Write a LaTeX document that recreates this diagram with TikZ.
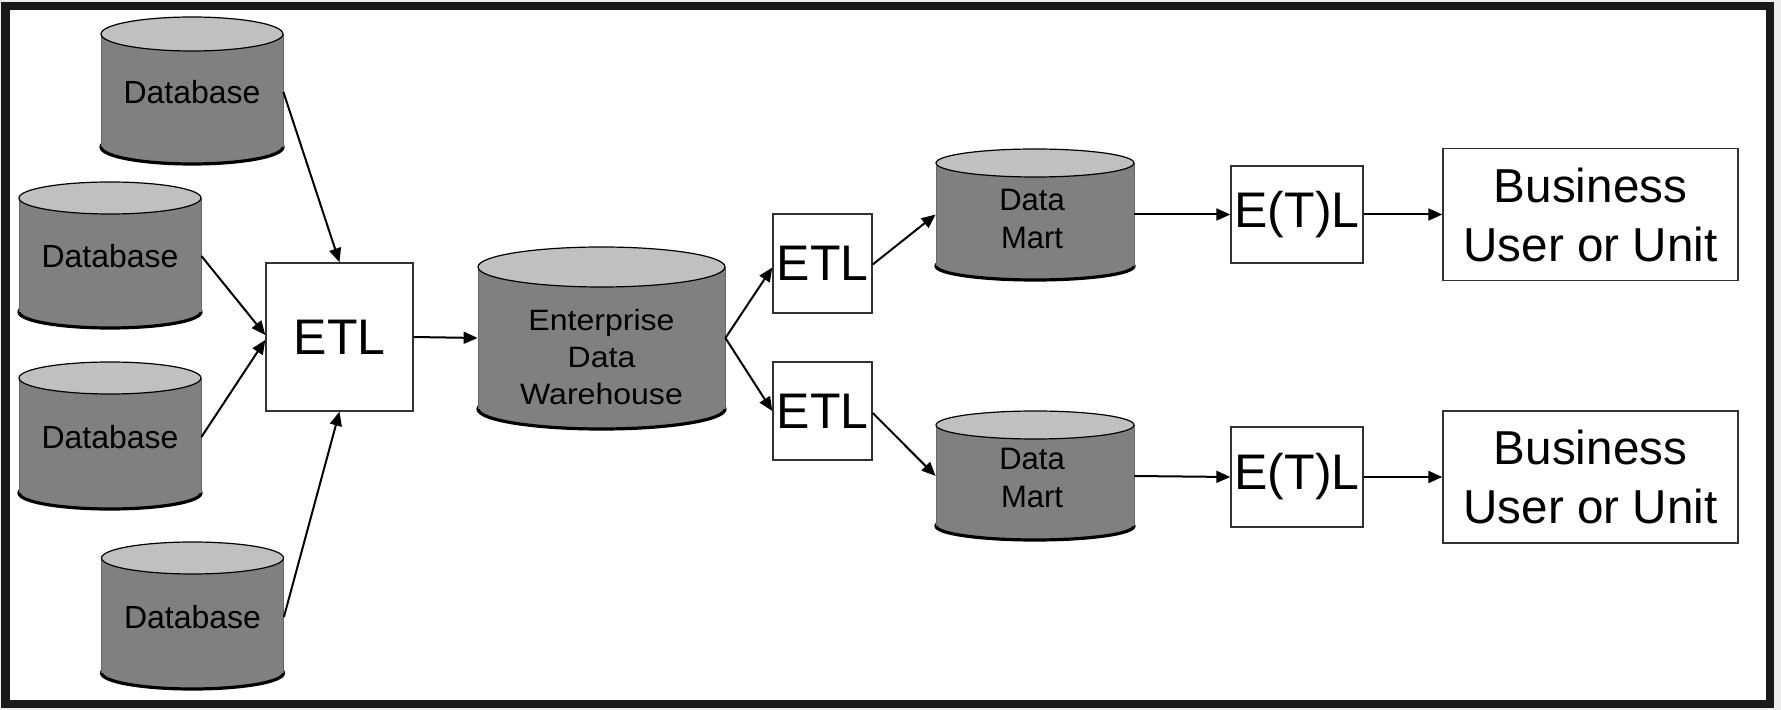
\documentclass[tikz,border=0pt]{standalone}
\usepackage{fontspec}
\setmainfont{Liberation Sans}
\newfontfamily\widesans[FakeStretch=1.09]{Liberation Sans}
\usetikzlibrary{arrows.meta,calc}

\definecolor{bodygray}{RGB}{128,128,128}
\definecolor{topgray}{RGB}{192,192,192}
\definecolor{boxline}{RGB}{50,50,50}
\definecolor{framecol}{RGB}{25,25,25}
\definecolor{outside}{RGB}{236,236,236}

% #1 cx, #2 rx, #3 top centre y, #4 bottom centre y, #5 ry
\newcommand\dbcyl[5]{%
  \filldraw[fill=bodygray,draw=black,line width=1.6pt] (#1,#4) ellipse [x radius=#2, y radius=#5];
  \fill[bodygray] (#1-#2,#3) rectangle (#1+#2,#4);
  \draw[draw=black!60,line width=0.5pt] (#1-#2,#3) -- (#1-#2,#4) (#1+#2,#3) -- (#1+#2,#4);
  \filldraw[fill=topgray,draw=black,line width=0.6pt] (#1,#3) ellipse [x radius=#2, y radius=#5];
}

\begin{document}
\begin{tikzpicture}[x=0.5pt,y=-0.5pt,
  dbtext/.style={inner sep=0pt,font=\fontsize{16pt}{19pt}\selectfont},
  cyltext/.style={inner sep=0pt,align=center,font=\widesans\fontsize{14.7pt}{18.7pt}\selectfont},
  marttext/.style={inner sep=0pt,align=center,font=\fontsize{15.5pt}{19pt}\selectfont},
  etlbox/.style={draw=boxline,fill=white,line width=0.7pt,inner sep=0pt,font=\fontsize{25pt}{30pt}\selectfont},
  userbox/.style={draw=boxline,fill=white,line width=0.7pt,inner sep=0pt,align=center,
     minimum width=147.5pt,minimum height=66pt,font=\fontsize{23.8pt}{29.5pt}\selectfont},
  arr/.style={draw=black,line width=1pt,-{Triangle[length=7pt,width=6pt]}}
]
\useasboundingbox (0,0) rectangle (1781,710);
% frame
\fill[outside] (0,0) rectangle (1781,710);
\fill[white] (5,6) rectangle (1770,704);
\draw[framecol,line width=4.25pt] (5.5,6) rectangle (1770,704);

% cylinders
\dbcyl{192}{91}{34}{147}{17}
\dbcyl{110}{91}{198}{312}{16}
\dbcyl{110}{91}{378}{493}{16}
\dbcyl{192.5}{91}{558}{673}{16}
\dbcyl{601.5}{123.5}{267}{409}{20}
\dbcyl{1035}{99}{163}{266}{14}
\dbcyl{1035}{99}{425}{526}{14}

% cylinder nodes (bodies)
\node[dbtext,minimum width=91pt,minimum height=56.5pt] (db1) at (192,92) {Database};
\node[dbtext,minimum width=91pt,minimum height=57pt] (db2) at (110,256) {Database};
\node[dbtext,minimum width=91pt,minimum height=57pt] (db3) at (110,437) {Database};
\node[dbtext,minimum width=91pt,minimum height=57pt] (db4) at (192.5,617) {Database};
\node[minimum width=123.5pt,minimum height=71pt,inner sep=0pt] (edw) at (601.5,338) {};
\node[cyltext] (edwtext) at (601.5,357) {Enterprise\\Data\\Warehouse};
\node[minimum width=99pt,minimum height=51.5pt,inner sep=0pt] (dm1) at (1035,214.5) {};
\node[marttext] (dm1text) at (1032,218.5) {Data\\Mart};
\node[minimum width=99pt,minimum height=50.5pt,inner sep=0pt] (dm2) at (1035,476) {};
\node[marttext] (dm2text) at (1032,478) {Data\\Mart};

% boxes
\node[etlbox,minimum width=73.5pt,minimum height=74pt] (etl1) at (339.5,337) {ETL};
\node[etlbox,minimum width=49.5pt,minimum height=49.5pt] (etl2) at (822.5,263.5) {ETL};
\node[etlbox,minimum width=49.5pt,minimum height=49pt] (etl3) at (822.5,411) {ETL};
\node[etlbox,minimum width=66pt,minimum height=48.5pt] (etl4) at (1297,214.5) {E(T)L};
\node[etlbox,minimum width=66pt,minimum height=50pt] (etl5) at (1297,477) {E(T)L};
\node[userbox] (bu1) at (1590.5,214.5) {Business\\User or Unit};
\node[userbox] (bu2) at (1590.5,477) {Business\\User or Unit};

% connectors
\draw[arr] (db1.east) -- (etl1.north);
\draw[arr] (db2.east) -- ($(etl1.west)+(0,-2)$);
\draw[arr] (db3.east) -- ($(etl1.west)+(0,3)$);
\draw[arr] (db4.east) -- (etl1.south);
\draw[arr] (etl1.east) -- (edw.west);
\draw[arr] (edw.east) -- ($(etl2.west)+(0,4)$);
\draw[arr] (edw.east) -- (etl3.west);
\draw[arr] ($(etl2.east)+(0,1)$) -- (dm1.west);
\draw[arr] ($(etl3.east)+(0,2)$) -- (dm2.west);
\draw[arr] (dm1.east) -- (etl4.west);
\draw[arr] (etl4.east) -- (bu1.west);
\draw[arr] (dm2.east) -- (etl5.west);
\draw[arr] (etl5.east) -- (bu2.west);
\end{tikzpicture}
\end{document}
